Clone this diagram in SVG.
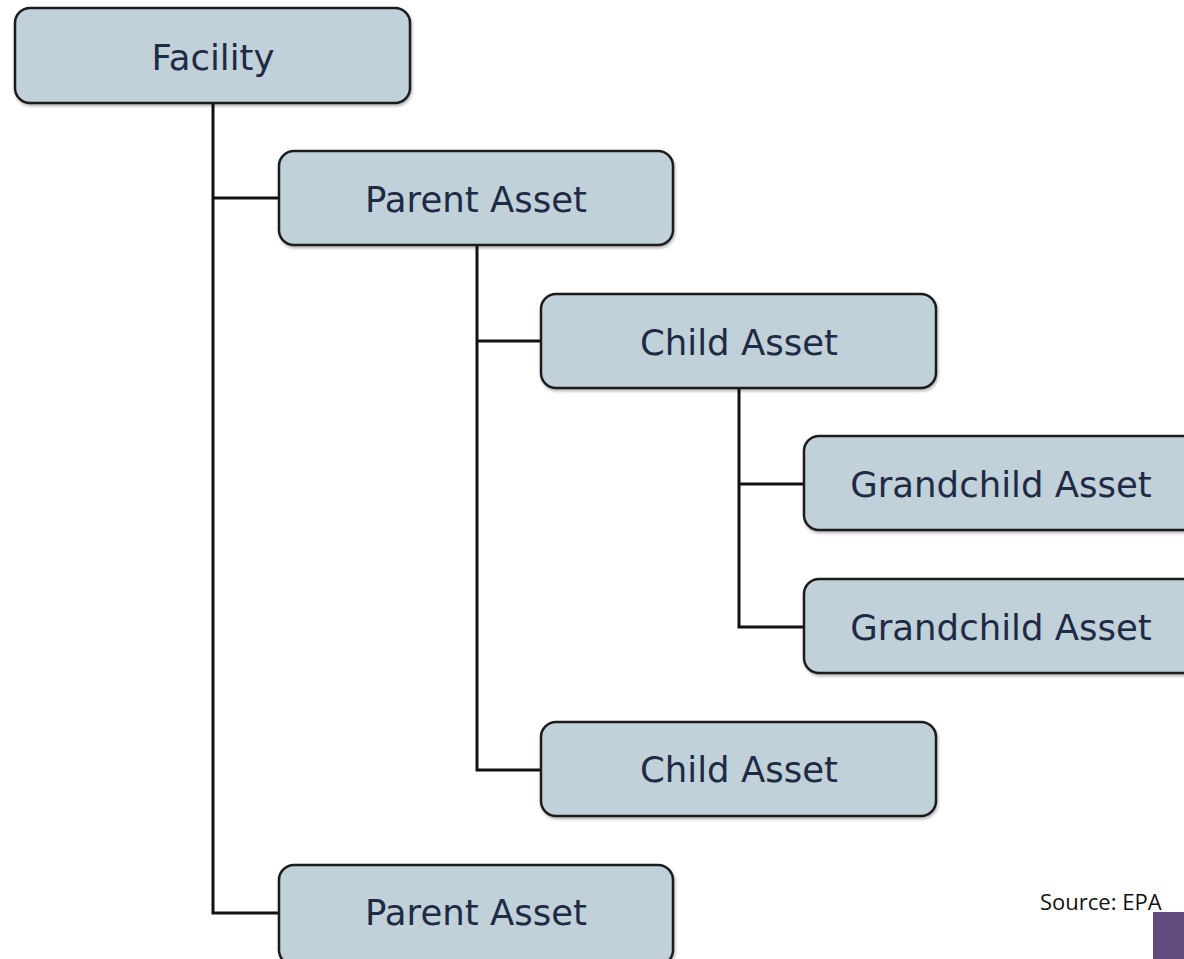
<svg xmlns="http://www.w3.org/2000/svg" width="1184" height="959" viewBox="0 0 1184 959">
  <defs>
    <filter id="shadow" x="-5%" y="-10%" width="115%" height="130%">
      <feGaussianBlur in="SourceAlpha" stdDeviation="1.5"/>
      <feOffset dx="1" dy="2" result="b"/>
      <feComponentTransfer><feFuncA type="linear" slope="0.3"/></feComponentTransfer>
      <feMerge><feMergeNode/><feMergeNode in="SourceGraphic"/></feMerge>
    </filter>
  </defs>
  <style>
    .box { fill: #c1d1da; stroke: #1c1c1c; stroke-width: 2.5; filter: url(#shadow); }
    .lbl { font-family: "DejaVu Sans", sans-serif; font-size: 35.5px; fill: #1f2a44; text-anchor: middle; }
    .wire { fill: none; stroke: #111; stroke-width: 3; }
    .src { font-family: "Open Sans", sans-serif; font-size: 22px; fill: #111; }
  </style>
  <rect width="1184" height="959" fill="#ffffff"/>

  <g id="connectors">
    <path class="wire" d="M213 103 V913 H279 M213 198 H279"/>
    <path class="wire" d="M477 245 V770 H541 M477 341 H541"/>
    <path class="wire" d="M739 388 V627 H804 M739 484 H804"/>
  </g>

  <g id="facility">
    <rect class="box" x="15" y="8" width="395" height="95" rx="15"/>
    <text class="lbl" x="213" y="70">Facility</text>
  </g>
  <g id="parent-asset-1">
    <rect class="box" x="279" y="151" width="394" height="94" rx="15"/>
    <text class="lbl" x="476" y="212">Parent Asset</text>
  </g>
  <g id="child-asset-1">
    <rect class="box" x="541" y="294" width="395" height="94" rx="15"/>
    <text class="lbl" x="739" y="355">Child Asset</text>
  </g>
  <g id="grandchild-asset-1">
    <rect class="box" x="804" y="436" width="395" height="94" rx="15"/>
    <text class="lbl" x="1001" y="497">Grandchild Asset</text>
  </g>
  <g id="grandchild-asset-2">
    <rect class="box" x="804" y="579" width="395" height="94" rx="15"/>
    <text class="lbl" x="1001" y="640">Grandchild Asset</text>
  </g>
  <g id="child-asset-2">
    <rect class="box" x="541" y="722" width="395" height="94" rx="15"/>
    <text class="lbl" x="739" y="782">Child Asset</text>
  </g>
  <g id="parent-asset-2">
    <rect class="box" x="279" y="865" width="394" height="100" rx="15"/>
    <text class="lbl" x="476" y="925">Parent Asset</text>
  </g>

  <text class="src" x="1040" y="910">Source: EPA</text>
  <rect x="1153" y="912" width="31" height="47" fill="#634a7e"/>
</svg>
